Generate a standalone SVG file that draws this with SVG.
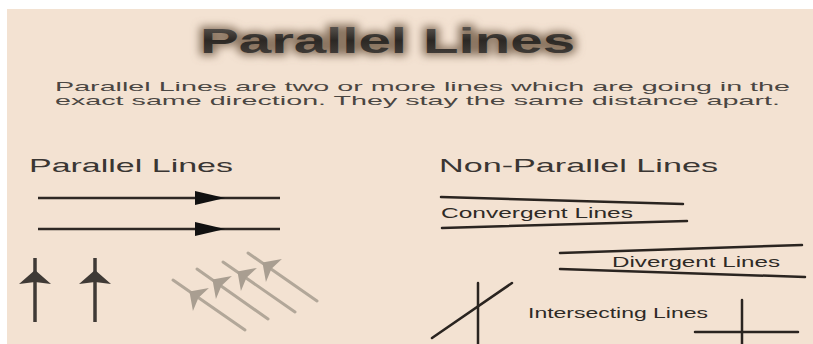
<svg xmlns="http://www.w3.org/2000/svg" width="813" height="344" viewBox="0 0 813 344">
<defs>
<style>
.t{font-family:"Liberation Sans",Arial,sans-serif;}
.h{font-size:19px;fill:#3a3633;}
.s{font-size:13px;fill:#4a4642;}
.l{font-size:14px;fill:#2e2a26;}
.dk{stroke:#2a2420;stroke-width:2.5;fill:none;stroke-linecap:round;}
.hz{stroke:#2e2824;stroke-width:2.5;fill:none;}
.vt{stroke:#3f3a36;stroke-width:3.5;fill:none;}
.dg{stroke:#b2a799;stroke-width:3;fill:none;stroke-linecap:round;}
</style>
<filter id="glow" x="-10%" y="-50%" width="120%" height="200%">
<feGaussianBlur stdDeviation="4"/>
</filter>
<linearGradient id="tg" x1="0" y1="0" x2="0" y2="1">
<stop offset="0" stop-color="#6a645e"/>
<stop offset="0.5" stop-color="#2c2824"/>
<stop offset="1" stop-color="#4a4540"/>
</linearGradient>
<path id="ah" d="M-8,0 L6,-14 L3,0 L6,14 Z"/>
</defs>
<rect x="0" y="0" width="813" height="344" fill="#ffffff"/>
<rect x="7" y="9" width="806" height="335" fill="#f3e2d2"/>

<g id="title">
<text class="t" x="200" y="53" font-size="35" font-weight="bold" textLength="375" lengthAdjust="spacingAndGlyphs" fill="#8a7560" stroke="#8a7560" stroke-width="5" filter="url(#glow)">Parallel Lines</text>
<text class="t" x="200" y="53" font-size="35" font-weight="bold" textLength="375" lengthAdjust="spacingAndGlyphs" fill="url(#tg)">Parallel Lines</text>
</g>

<g id="description">
<text class="t s" x="55" y="91" textLength="735" lengthAdjust="spacingAndGlyphs">Parallel Lines are two or more lines which are going in the</text>
<text class="t s" x="55" y="105" textLength="725" lengthAdjust="spacingAndGlyphs">exact same direction. They stay the same distance apart.</text>
</g>

<g id="parallel-heading">
<text class="t h" x="29" y="172" textLength="204" lengthAdjust="spacingAndGlyphs">Parallel Lines</text>
</g>

<g id="nonparallel-heading">
<text class="t h" x="439" y="172" textLength="279" lengthAdjust="spacingAndGlyphs">Non-Parallel Lines</text>
</g>

<g id="horizontal-parallel">
<line class="hz" x1="38" y1="198" x2="280" y2="198"/>
<path d="M195,191 L225,198 L195,205 Z" fill="#111"/>
<line class="hz" x1="38" y1="229" x2="280" y2="229"/>
<path d="M195,222 L225,229 L195,236 Z" fill="#111"/>
</g>

<g id="vertical-parallel" fill="#3f3a36">
<line class="vt" x1="35" y1="258" x2="35" y2="322"/>
<path d="M35,270 L51,284 L35,282 L19,284 Z"/>
<line class="vt" x1="95" y1="258" x2="95" y2="322"/>
<path d="M95,270 L111,284 L95,282 L79,284 Z"/>
</g>

<g id="diagonal-parallel" fill="#a99e91">
<line class="dg" x1="173" y1="280" x2="245" y2="330"/>
<line class="dg" x1="197" y1="269" x2="268" y2="319"/>
<line class="dg" x1="223" y1="262" x2="295" y2="312"/>
<line class="dg" x1="248" y1="253" x2="317" y2="301"/>
<use href="#ah" transform="translate(196,296) rotate(34.8)"/>
<use href="#ah" transform="translate(219,284) rotate(34.8)"/>
<use href="#ah" transform="translate(244,276) rotate(34.8)"/>
<use href="#ah" transform="translate(269,267) rotate(34.8)"/>
</g>

<g id="convergent">
<line class="dk" x1="441" y1="197" x2="683" y2="204"/>
<line class="dk" x1="442" y1="228" x2="687" y2="221"/>
<text class="t l" x="441" y="218" textLength="192" lengthAdjust="spacingAndGlyphs">Convergent Lines</text>
</g>

<g id="divergent">
<line class="dk" x1="560" y1="253" x2="802" y2="245"/>
<line class="dk" x1="560" y1="269" x2="805" y2="277"/>
<text class="t l" x="612" y="267" textLength="168" lengthAdjust="spacingAndGlyphs">Divergent Lines</text>
</g>

<g id="intersecting">
<line class="dk" x1="478" y1="283" x2="478" y2="344"/>
<line class="dk" x1="432" y1="338" x2="512" y2="283"/>
<line class="dk" x1="742" y1="300" x2="742" y2="344"/>
<line class="dk" x1="695" y1="332" x2="798" y2="332"/>
<text class="t l" x="528" y="318" textLength="180" lengthAdjust="spacingAndGlyphs">Intersecting Lines</text>
</g>
</svg>
